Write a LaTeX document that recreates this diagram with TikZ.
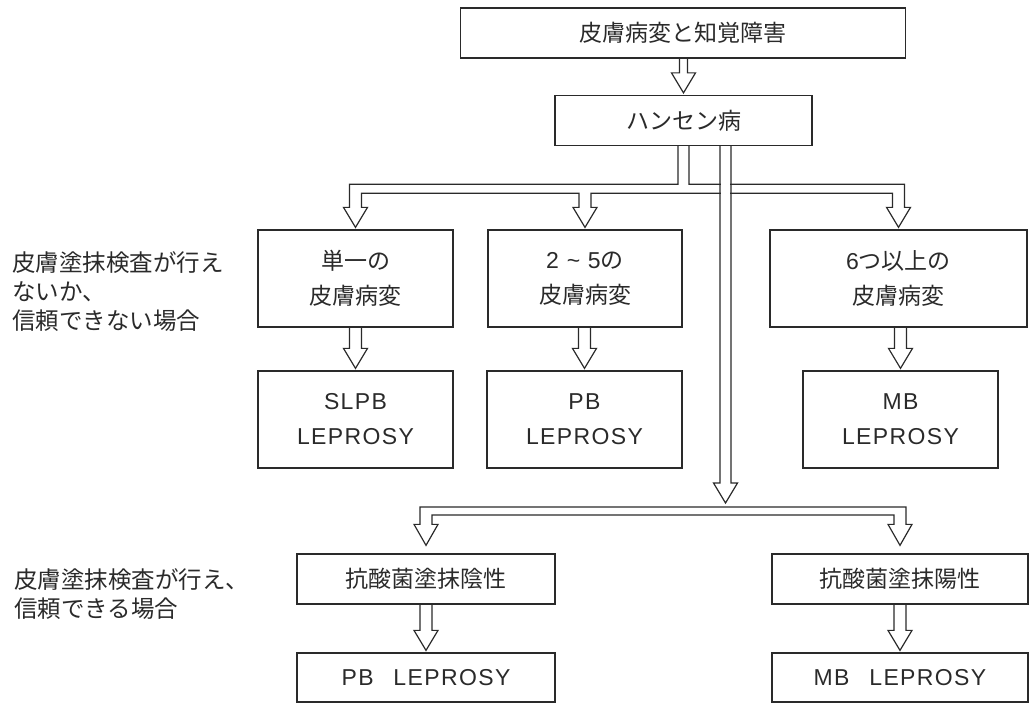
\documentclass[tikz,border=0pt]{standalone}
\usepackage{fontspec}
\setmainfont{Noto Sans CJK JP}
\newfontfamily\lat{Liberation Sans}[LetterSpace=6]
\usetikzlibrary{calc}
\definecolor{ink}{HTML}{2A2A2A}
\tikzset{
  box/.style={draw=ink, line width=1.3pt, inner sep=0pt, align=center,
    font=\fontsize{23}{35}\selectfont, text=ink},
  arr/.style={draw=ink, line width=1.2pt, line join=miter},
  side/.style={anchor=base west, align=left, inner sep=0pt,
    font=\fontsize{23.5}{28.7}\selectfont, text=ink}
}
\newcommand\vdarr[3][6]{%
  \draw[arr] let \p1=(#2.south), \p2=(#3.north) in
    (\x2-#1pt,\y1) -- (\x2-#1pt,\y2+22pt) -- (\x2-12pt,\y2+22pt) -- (\x2,\y2+2pt)
    -- (\x2+12pt,\y2+22pt) -- (\x2+#1pt,\y2+22pt) -- (\x2+#1pt,\y1);}
\begin{document}
\begin{tikzpicture}[x=1pt,y=-1pt]
\useasboundingbox (0,0) rectangle (1030,704);
% boxes
\node[box, minimum width=445pt, minimum height=50pt] (top) at (683,33) {皮膚病変と知覚障害};
\node[box, minimum width=257pt, minimum height=50pt] (h) at (683.5,120.5) {ハンセン病};
\node[box, minimum width=195pt, minimum height=97pt] (b1) at (355.5,278.5) {単一の\\皮膚病変};
\node[box, minimum width=194pt, minimum height=97pt] (b2) at (585,278.5) {{\lat 2 \textasciitilde{} 5}の\\皮膚病変};
\node[box, minimum width=257pt, minimum height=97pt] (b3) at (898.5,278.5) {{\lat 6}つ以上の\\皮膚病変};
\node[box, minimum width=195pt, minimum height=97pt] (c1) at (355.5,419.5) {{\lat SLPB}\\{\lat LEPROSY}};
\node[box, minimum width=195pt, minimum height=97pt] (c2) at (584.5,419.5) {{\lat PB}\\{\lat LEPROSY}};
\node[box, minimum width=195pt, minimum height=97pt] (c3) at (900.5,419.5) {{\lat MB}\\{\lat LEPROSY}};
\node[box, minimum width=258pt, minimum height=50pt] (d1) at (426,579) {抗酸菌塗抹陰性};
\node[box, minimum width=256pt, minimum height=50pt] (d2) at (900,579) {抗酸菌塗抹陽性};
\node[box, minimum width=258pt, minimum height=49pt] (e1) at (426,677.5) {{\lat PB\hspace{12pt} LEPROSY}};
\node[box, minimum width=256pt, minimum height=49pt] (e2) at (900,677.5) {{\lat MB\hspace{12pt} LEPROSY}};
% side labels (anchor = baseline of last line)
\node[side] (s1) at (12,329) {皮膚塗抹検査が行え\\ないか、\\信頼できない場合};
\node[side] (s2) at (14,617) {皮膚塗抹検査が行え、\\信頼できる場合};
% simple arrows
\vdarr[4]{top}{h}
\vdarr{b1}{c1}
\vdarr{b2}{c2}
\vdarr{b3}{c3}
\vdarr{d1}{e1}
\vdarr{d2}{e2}
% upper branch
\draw[arr] let \p0=(h.south), \p1=(b1.north), \p2=(b2.north), \p3=(b3.north) in
  (\x0-5.5pt,\y0) -- (\x0-5.5pt,\y0-38pt) -- (\x1-6pt,\y0-38pt) -- (\x1-6pt,\y1+22pt)
  -- (\x1-12pt,\y1+22pt) -- (\x1,\y1+2pt) -- (\x1+12pt,\y1+22pt) -- (\x1+6pt,\y1+22pt)
  -- (\x1+6pt,\y0-47pt) -- (\x2-6pt,\y0-47pt) -- (\x2-6pt,\y1+22pt)
  -- (\x2-12pt,\y1+22pt) -- (\x2,\y1+2pt) -- (\x2+12pt,\y1+22pt) -- (\x2+6pt,\y1+22pt)
  -- (\x2+6pt,\y0-47pt) -- (\x3-6pt,\y0-47pt) -- (\x3-6pt,\y1+22pt)
  -- (\x3-12pt,\y1+22pt) -- (\x3,\y1+2pt) -- (\x3+12pt,\y1+22pt) -- (\x3+6pt,\y1+22pt)
  -- (\x3+6pt,\y0-38pt) -- (\x0+5.5pt,\y0-38pt) -- (\x0+5.5pt,\y0);
% central long arrow
\coordinate (split) at (725.5,507);
\fill[white] let \p0=(h.south), \p1=(split) in (\x1-4.5pt,\y0-34pt) rectangle (\x1+4.5pt,\y0-51pt);
\draw[arr] let \p0=(h.south), \p1=(split) in
  (\x1-5.5pt,\y0) -- (\x1-5.5pt,\y1+24pt) -- (\x1-12pt,\y1+24pt) -- (\x1,\y1+4pt)
  -- (\x1+12pt,\y1+24pt) -- (\x1+5.5pt,\y1+24pt) -- (\x1+5.5pt,\y0);
% lower branch
\draw[arr] let \p1=(split), \p2=(d1.north), \p3=(d2.north) in
  (\x2-6pt,\y2+29pt) -- (\x2-6pt,\y1) -- (\x3+6pt,\y1) -- (\x3+6pt,\y2+29pt)
  -- (\x3+12pt,\y2+29pt) -- (\x3,\y2+8pt) -- (\x3-12pt,\y2+29pt) -- (\x3-6pt,\y2+29pt)
  -- (\x3-6pt,\y1-8pt) -- (\x2+6pt,\y1-8pt) -- (\x2+6pt,\y2+29pt)
  -- (\x2+12pt,\y2+29pt) -- (\x2,\y2+8pt) -- (\x2-12pt,\y2+29pt) -- cycle;
\end{tikzpicture}
\end{document}
